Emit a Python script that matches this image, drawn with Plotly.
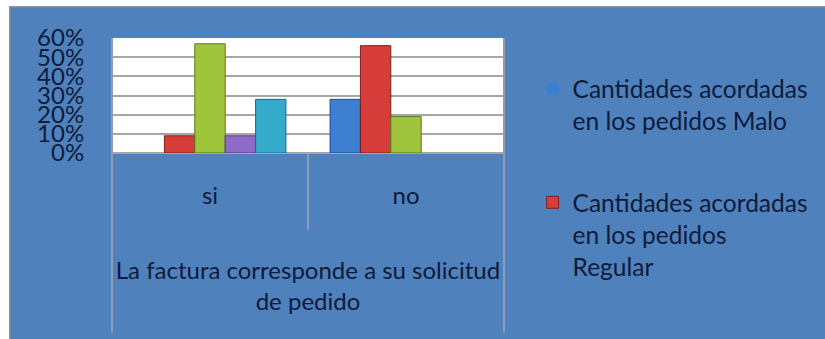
import plotly.graph_objects as go

# Survey answers for "La factura corresponde a su solicitud de pedido"
categories = ["si", "no"]
series_names = [
    "Cantidades acordadas en los pedidos Malo",
    "Cantidades acordadas en los pedidos Regular",
    "Cantidades acordadas en los pedidos Bueno",
    "Cantidades acordadas en los pedidos Muy bueno",
    "Cantidades acordadas en los pedidos Excelente",
]
legend_labels = [
    "Cantidades acordadas<br>en los pedidos Malo",
    "Cantidades acordadas<br>en los pedidos<br>Regular",
]
malo = [0.00, 0.28]
regular = [0.09, 0.56]
bueno = [0.57, 0.19]
muy_bueno = [0.09, 0.00]
excelente = [0.28, 0.00]
y_ticks = [0, 0.1, 0.2, 0.3, 0.4, 0.5, 0.6]
y_tick_text = ["0%", "10%", "20%", "30%", "40%", "50%", "60%"]

series_values = [malo, regular, bueno, muy_bueno, excelente]
fill_colors = ["#3c7fd0", "#d63c3a", "#9fc53c", "#8f6bc8", "#35abcb"]
edge_colors = ["#1f4f8c", "#7e1f1d", "#5a7a1c", "#523a80", "#1c6a80"]

BG = "#4f81bd"
TEXT = "#0e1b3a"
FONT = "Lato"

fig = go.Figure()
for i, (name, vals) in enumerate(zip(series_names, series_values)):
    fig.add_trace(go.Bar(
        x=categories,
        y=vals,
        name=legend_labels[i] if i < len(legend_labels) else name,
        showlegend=i < len(legend_labels),
        legendgroup=f"g{i}",
        marker=dict(
            color=fill_colors[i],
            line=dict(color=edge_colors[i], width=[1 if v > 0 else 0 for v in vals]),
        ),
    ))

# Category divider lines of the two-level axis, hanging below the plot
line_style = dict(color="#8e9db4", width=2)
fig.add_shape(type="line", xref="x", yref="paper", x0=-0.5, x1=-0.5, y0=1, y1=-1.56, line=line_style)
fig.add_shape(type="line", xref="x", yref="paper", x0=0.5, x1=0.5, y0=0, y1=-0.67, line=line_style)
fig.add_shape(type="line", xref="x", yref="paper", x0=1.5, x1=1.5, y0=1, y1=-1.56, line=line_style)

# White page strips around the blue chart panel
fig.add_shape(type="rect", xref="paper", yref="paper", x0=-0.6, x1=-0.257, y0=-2, y1=2,
              fillcolor="white", line=dict(width=0), layer="below")
fig.add_shape(type="rect", xref="paper", yref="paper", x0=-0.6, x1=2.2, y0=1.272, y1=2,
              fillcolor="white", line=dict(width=0), layer="below")
fig.add_shape(type="rect", xref="paper", yref="paper", x0=-0.257, x1=2.2, y0=-2, y1=1.272,
              fillcolor="rgba(0,0,0,0)", line=dict(color="#8f8f98", width=1.5), layer="below")

fig.update_layout(
    width=825,
    height=339,
    margin=dict(l=111, r=317, t=38, b=186),
    paper_bgcolor=BG,
    plot_bgcolor="white",
    barmode="group",
    bargap=0.225,
    bargroupgap=0,
    font=dict(family=FONT, color=TEXT, size=22),
    showlegend=True,
    legend=dict(
        x=1.07, xanchor="left",
        y=0.755, yanchor="top",
        bgcolor="rgba(0,0,0,0)",
        font=dict(family=FONT, size=24.5, color=TEXT),
        valign="top",
        tracegroupgap=47,
        itemwidth=30,
        maxheight=330,
    ),
    xaxis=dict(
        type="category",
        showgrid=False,
        showline=False,
        ticks="outside",
        ticklen=21,
        tickcolor="rgba(0,0,0,0)",
        tickfont=dict(family=FONT, size=24, color=TEXT),
        title=dict(
            text="La factura corresponde a su solicitud<br>de pedido",
            font=dict(family=FONT, size=24, color=TEXT),
            standoff=54,
        ),
        automargin=False,
    ),
    yaxis=dict(
        range=[0, 0.6],
        tickvals=y_ticks,
        ticktext=y_tick_text,
        showgrid=True,
        gridcolor="#a6a6a6",
        gridwidth=2,
        zeroline=True,
        zerolinecolor="#a6a6a6",
        zerolinewidth=2,
        showline=False,
        ticks="outside",
        ticklen=21,
        tickcolor="rgba(0,0,0,0)",
        tickfont=dict(family=FONT, size=24, color=TEXT),
        automargin=False,
    ),
)

fig.write_html("out.html")
